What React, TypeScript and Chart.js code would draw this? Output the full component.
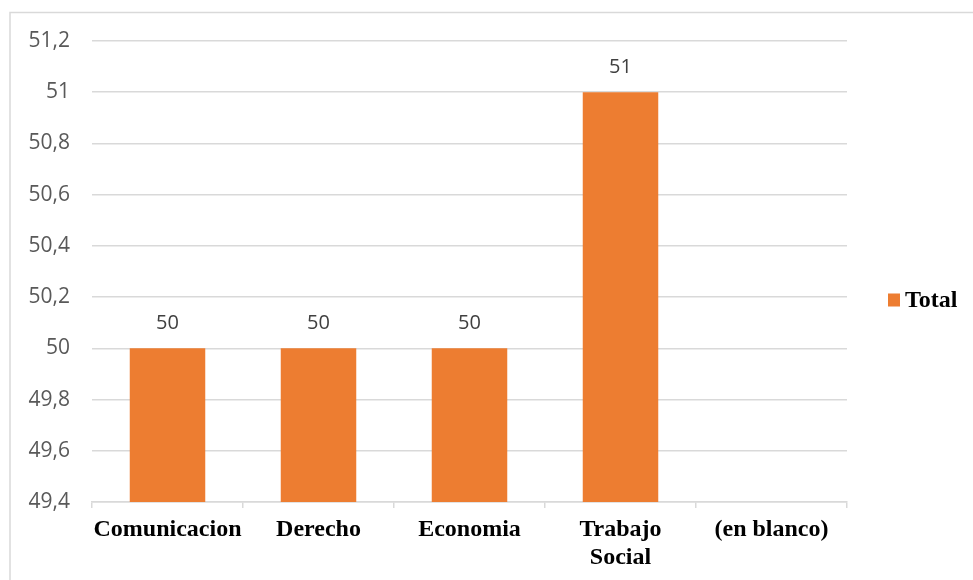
import React, { useEffect, useRef } from "react";
import { Chart, registerables } from "chart.js";

Chart.register(...registerables);

const categories: (string | string[])[] = ["Comunicacion", "Derecho", "Economia", ["Trabajo", "Social"], "(en blanco)"];
const totalValues: (number | null)[] = [50, 50, 50, 51, null];
const seriesName = "Total";
const yMin = 49.4;
const yMax = 51.2;
const yStep = 0.2;

const BAR_COLOR = "#ED7D31";
const GRID_COLOR = "#d9d9d9";

const fmt = (v: number) => String(Number(v.toFixed(1))).replace(".", ",");

const decorPlugin = {
  id: "decor",
  beforeDraw(chart: any) {
    const ctx = chart.ctx;
    ctx.save();
    ctx.strokeStyle = GRID_COLOR;
    ctx.lineWidth = 1.5;
    ctx.strokeRect(10, 12.5, 1200, 1200);
    ctx.restore();
  },
  afterDatasetsDraw(chart: any) {
    const ctx = chart.ctx;
    ctx.save();
    ctx.font = "20px 'Open Sans'";
    ctx.fillStyle = "#404040";
    ctx.textAlign = "center";
    ctx.textBaseline = "middle";
    const meta = chart.getDatasetMeta(0);
    meta.data.forEach((el: any, i: number) => {
      const v = chart.data.datasets[0].data[i];
      if (v === null || v === undefined) return;
      ctx.fillText(fmt(v), el.x, el.y - 25);
    });
    // legend
    const lx = chart.chartArea.right + 41;
    const ly = (chart.chartArea.top + chart.chartArea.bottom) / 2 + 28;
    ctx.fillStyle = BAR_COLOR;
    ctx.fillRect(lx, ly - 6, 12, 13);
    ctx.fillStyle = "#000";
    ctx.font = "bold 24px 'Liberation Serif'";
    ctx.textAlign = "left";
    ctx.fillText(seriesName, lx + 17, ly + 1);
    ctx.restore();
  },
};

export default function App() {
  const ref = useRef<HTMLCanvasElement>(null);
  useEffect(() => {
    if (!ref.current) return;
    const chart = new Chart(ref.current, {
      type: "bar",
      data: {
        labels: categories,
        datasets: [
          {
            label: seriesName,
            data: totalValues,
            backgroundColor: BAR_COLOR,
            categoryPercentage: 1,
            barPercentage: 0.5,
          },
        ],
      },
      options: {
        animation: false,
        responsive: false,
        layout: { padding: { left: 0, top: 41, right: 126, bottom: 0 } },
        plugins: { legend: { display: false }, tooltip: { enabled: false } },
        scales: {
          x: {
            grid: {
              display: true,
              drawOnChartArea: false,
              drawTicks: true,
              tickLength: 6,
              color: GRID_COLOR,
              lineWidth: 1.5,
              offset: true,
            },
            border: { display: true, color: GRID_COLOR, width: 1.5 },
            ticks: {
              color: "#000",
              font: { family: "'Liberation Serif'", size: 24, weight: "bold", lineHeight: 1.17 },
              padding: 8,
              maxRotation: 0,
              autoSkip: false,
            },
            afterFit: (s: any) => {
              s.height = 78;
            },
          },
          y: {
            min: yMin,
            max: yMax,
            grid: { color: GRID_COLOR, lineWidth: 1.5, drawTicks: false },
            border: { display: false },
            ticks: {
              stepSize: yStep,
              color: "#595959",
              font: { family: "'Open Sans'", size: 21 },
              padding: 22,
              callback: (v: any) => fmt(Number(v)),
            },
            afterFit: (s: any) => {
              s.width = 92;
            },
          },
        },
      },
      plugins: [decorPlugin],
    } as any);
    return () => chart.destroy();
  }, []);
  return (
    <div style={{ position: "absolute", left: 0, top: 0, width: 973, height: 580, background: "#fff" }}>
      <canvas ref={ref} width={973} height={580} />
    </div>
  );
}
